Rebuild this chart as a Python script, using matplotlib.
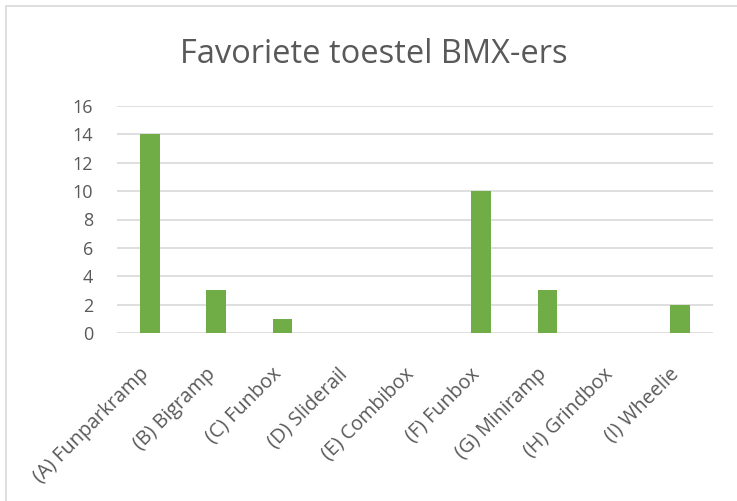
import matplotlib.pyplot as plt
from matplotlib.patches import Rectangle
from matplotlib.transforms import ScaledTranslation

categories = ["(A) Funparkramp", "(B) Bigramp", "(C) Funbox", "(D) Sliderail",
              "(E) Combibox", "(F) Funbox", "(G) Miniramp", "(H) Grindbox", "(I) Wheelie"]
values = [14, 3, 1, 0, 0, 10, 3, 0, 2]
yticks = [0, 2, 4, 6, 8, 10, 12, 14, 16]

plt.rcParams['font.family'] = ['Open Sans', 'DejaVu Sans']
grey = '#595959'

fig = plt.figure(figsize=(7.37, 5.01), dpi=100)
fig.patches.append(Rectangle((6 / 737, -0.1), 1.2, 1 - 6 / 501 + 0.1, transform=fig.transFigure,
                             fill=False, edgecolor='#D9D9D9', linewidth=1.2))
ax = fig.add_axes([117 / 737, 1 - 333 / 501, (713 - 117) / 737, (333 - 106) / 501])

x = range(len(categories))
ax.bar(x, values, width=0.3, color='#70AD47', zorder=3)
ax.set_xlim(-0.5, len(categories) - 0.5)
ax.set_ylim(0, 16)
ax.set_yticks(yticks)
ax.set_yticklabels([str(v) for v in yticks], fontsize=13, color=grey)
ax.yaxis.grid(True, color='#D9D9D9', linewidth=1.2, zorder=0)
ax.set_xticks(list(x))
ax.set_xticklabels(categories, rotation=45, ha='right', va='center_baseline',
                   rotation_mode='anchor', fontsize=14.2, color=grey)
ax.tick_params(length=0)
ax.tick_params(axis='x', pad=24)
ax.tick_params(axis='y', pad=17)
for s in ax.spines.values():
    s.set_visible(False)

# shift labels down-left a bit, like Excel puts them (after tick_params, which resets transforms)
shift = ScaledTranslation(-0.06, -0.03, fig.dpi_scale_trans)
for lbl in ax.get_xticklabels():
    lbl.set_transform(lbl.get_transform() + shift)

fig.text(374 / 737, 1 - 63 / 501, "Favoriete toestel BMX-ers", ha='center', va='baseline',
         fontsize=23.5, color=grey)

fig.savefig("out.png", dpi=100)
